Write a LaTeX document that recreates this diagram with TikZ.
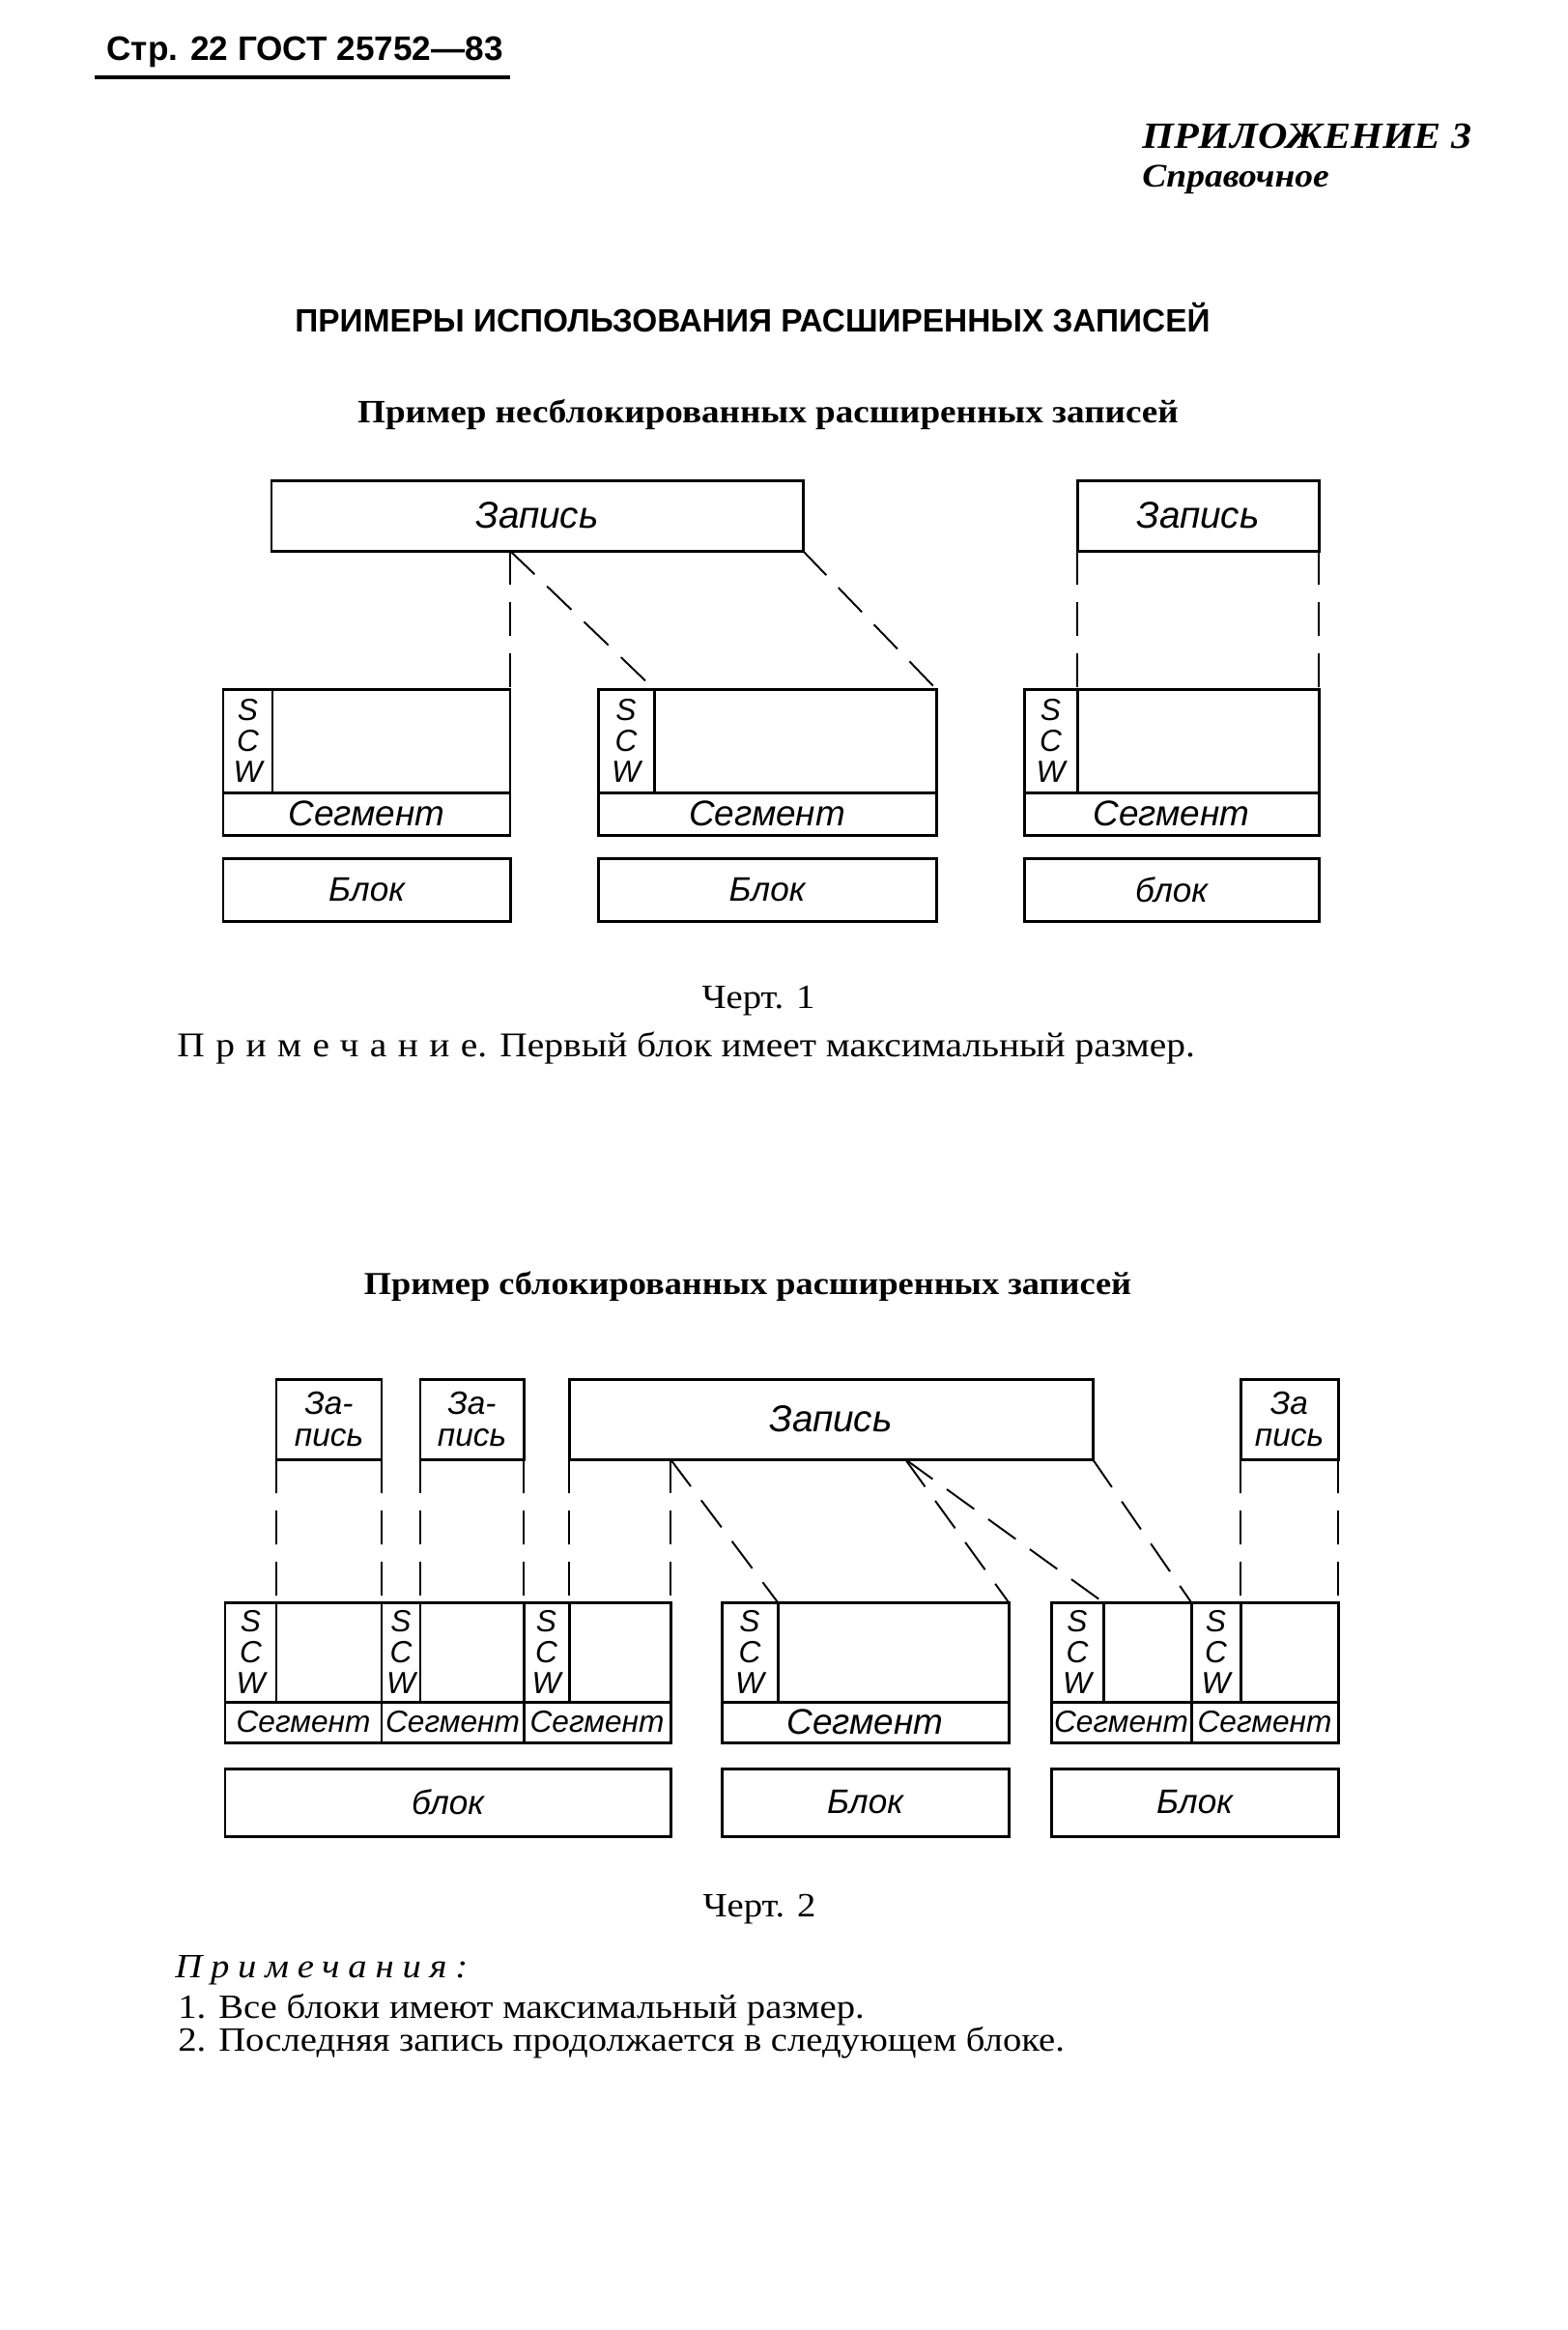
\documentclass[tikz,border=0pt]{standalone}
\usepackage{fontspec}
\setmainfont{Liberation Serif}[FakeStretch=1.1]
\newfontfamily\gostfont{Liberation Sans}
\newfontfamily\headfont{Liberation Sans}

\begin{document}
\begin{tikzpicture}[x=1mm, y=-1mm,
  box/.style={draw, line width=0.85pt, inner sep=0pt, outer sep=0pt, anchor=north west},
  zap/.style={box, minimum height=7.3mm, font=\gostfont\itshape\fontsize{11}{11}\selectfont},
  small/.style={box, minimum height=8.3mm, align=center, font=\gostfont\itshape\fontsize{9.5}{9.5}\selectfont},
  scw/.style={box, align=center, font=\gostfont\itshape\fontsize{9}{9}\selectfont},
  seg/.style={box, font=\gostfont\itshape\fontsize{10.5}{10.5}\selectfont},
  blk/.style={box, minimum height=6.5mm, font=\gostfont\itshape\fontsize{10}{10}\selectfont},
  link/.style={line width=0.55pt, dash pattern=on 3.5mm off 1.8mm}]

  \useasboundingbox (0,0) rectangle (162.3,241.1);

  \node[anchor=base west, font=\headfont\bfseries\fontsize{10}{10}\selectfont] (page) at (9.8,6.2) {Стр. 22 ГОСТ 25752—83};
  \draw[line width=1pt] (9.8,8.0) -- (52.8,8.0);
  \node[anchor=base west, font=\bfseries\itshape\fontsize{10.9}{10.9}\selectfont] (app) at (117,15.3) {ПРИЛОЖЕНИЕ 3};
  \node[anchor=base west, font=\bfseries\itshape\fontsize{9.7}{9.7}\selectfont] (refnote) at (117,19.3) {Справочное};

  \node[anchor=base, font=\headfont\bfseries\fontsize{9.5}{9.5}\selectfont] (title) at (77.9,34.3) {ПРИМЕРЫ ИСПОЛЬЗОВАНИЯ РАСШИРЕННЫХ ЗАПИСЕЙ};
  \node[anchor=base, font=\bfseries\fontsize{9.6}{9.6}\selectfont] (ex1) at (79.5,43.7) {Пример несблокированных расширенных записей};

  \node[zap, minimum width=55mm] (z1) at (28.1,49.7) {Запись};
  \node[zap, minimum width=25mm] (z3) at (111.5,49.7) {Запись};

  \foreach \n/\xl/\xs/\xr in {s1/23.1/28.2/52.8, s2/61.9/67.7/96.9, s3/106.0/111.5/136.5}{
    \node[box, minimum width={(\xr-\xl)*1mm}, minimum height=10.7mm] (\n) at (\xl,71.3) {};
    \node[scw, minimum width={(\xs-\xl)*1mm}, minimum height=10.7mm] (\n-w) at (\xl,71.3) {S\\C\\W};
    \node[seg, minimum width={(\xr-\xl)*1mm}, minimum height=4.4mm] (\n-l) at (\xl,82.0) {Сегмент};
  }

  \node[blk, minimum width=29.7mm] (b1) at (23.1,88.8) {Блок};
  \node[blk, minimum width=35mm] (b2) at (61.9,88.8) {Блок};
  \node[blk, minimum width=30.5mm] (b3) at (106.0,88.8) {блок};

  \draw[link] (s1.north east |- z1.south) -- (s1.north east);
  \draw[link] (s1.north east |- z1.south) -- (s2-w.north east);
  \draw[link] (z1.south east) -- (s2.north east);
  \draw[link] (z3.south west) -- (s3-w.north east);
  \draw[link] (z3.south east) -- (s3.north east);

  \node[anchor=base, font=\fontsize{10}{10}\selectfont] (fig1) at (78.5,104.3) {Черт. 1};
  \node[anchor=base west, font=\fontsize{10.2}{10.2}\selectfont] (note1) at (17.1,109.3) {{\addfontfeatures{LetterSpace=32}Примечание}. Первый блок имеет максимальный размер.};

  \node[anchor=base, font=\bfseries\fontsize{9.4}{9.4}\selectfont] (ex2) at (77.4,133.9) {Пример сблокированных расширенных записей};

  \node[small, minimum width=10.9mm] (za) at (28.6,142.7) {За-\\пись};
  \node[small, minimum width=10.7mm] (zb) at (43.5,142.7) {За-\\пись};
  \node[zap, minimum width=54.2mm, minimum height=8.3mm] (zc) at (58.9,142.7) {Запись};
  \node[small, minimum width=10.1mm] (zd) at (128.4,142.7) {За\\пись};

  \foreach \n/\xl/\xs/\xr/\fs in {g1/23.3/28.6/39.5/9, g2/39.5/43.5/54.2/9, g3/54.2/58.9/69.4/9,
      g4/74.7/80.5/104.4/10.5, g5/108.8/114.2/123.3/9, g6/123.3/128.4/138.5/9}{
    \node[box, minimum width={(\xr-\xl)*1mm}, minimum height=10.3mm] (\n) at (\xl,165.8) {};
    \node[scw, minimum width={(\xs-\xl)*1mm}, minimum height=10.3mm] (\n-w) at (\xl,165.8) {S\\C\\W};
    \node[seg, minimum width={(\xr-\xl)*1mm}, minimum height=4.2mm, font=\gostfont\itshape\fontsize{\fs}{\fs}\selectfont] (\n-l) at (\xl,176.1) {Сегмент};
  }

  \node[blk, minimum height=7mm, minimum width=46.1mm] (b4) at (23.3,183.0) {блок};
  \node[blk, minimum height=7mm, minimum width=29.7mm] (b5) at (74.7,183.0) {Блок};
  \node[blk, minimum height=7mm, minimum width=29.7mm] (b6) at (108.8,183.0) {Блок};

  \coordinate (zc-cut) at ([xshift=34.8mm]zc.south west);
  \draw[link] (za.south west) -- (g1-w.north east);
  \draw[link] (za.south east) -- (g1.north east);
  \draw[link] (zb.south west) -- (g2-w.north east);
  \draw[link] (zb.south east) -- (g2.north east);
  \draw[link] (zc.south west) -- (g3-w.north east);
  \draw[link] (g3.north east |- zc.south) -- (g3.north east);
  \draw[link] (g3.north east |- zc.south) -- (g4-w.north east);
  \draw[link] (zc-cut) -- (g4.north east);
  \draw[link] (zc-cut) -- (g5-w.north east);
  \draw[link] (zc.south east) -- (g6.north west);
  \draw[link] (zd.south west) -- (g6-w.north east);
  \draw[link] (zd.south east) -- (g6.north east);

  \node[anchor=base, font=\fontsize{10}{10}\selectfont] (fig2) at (78.6,198.3) {Черт. 2};
  \node[anchor=base west, font=\itshape\fontsize{10}{10}\selectfont\addfontfeatures{LetterSpace=25}] (notes) at (16.9,204.6) {Примечания:};
  \node[anchor=base west, font=\fontsize{10}{10}\selectfont] (n1) at (17.2,208.8) {1. Все блоки имеют максимальный размер.};
  \node[anchor=base west, font=\fontsize{10}{10}\selectfont] (n2) at (17.2,212.2) {2. Последняя запись продолжается в следующем блоке.};
\end{tikzpicture}
\end{document}
